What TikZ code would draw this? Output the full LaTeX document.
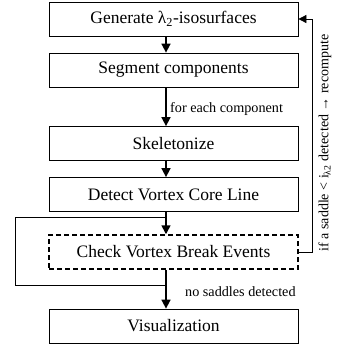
\documentclass[tikz,border=0pt]{standalone}
\usepackage{fontspec}
\setmainfont{Liberation Serif}
\usetikzlibrary{arrows.meta}
\begin{document}
\begin{tikzpicture}[x=1pt,y=-1pt,
  stepbox/.style={draw, line width=0.8pt, minimum width=249pt, minimum height=34pt, inner sep=0pt, font=\fontsize{17.5}{20}\selectfont},
  flow/.style={line width=1.6pt, -{Triangle[length=9pt,width=9pt]}},
  thin/.style={line width=0.8pt},
  lbl/.style={font=\fontsize{14.2}{16}\selectfont, inner sep=0pt}]
\useasboundingbox (0,0) rectangle (338,349);
\node[stepbox] (b1) at (173.5,19) {Generate λ\textsubscript{2}-isosurfaces};
\node[stepbox] (b2) at (173.5,70) {Segment components};
\node[stepbox] (b3) at (173.5,143.5) {Skeletonize};
\node[stepbox] (b4) at (173.5,194.5) {Detect Vortex Core Line};
\node[stepbox, dash pattern=on 5pt off 3pt, line width=1.5pt] (b5) at (173.5,252) {Check Vortex Break Events};
\node[stepbox] (b6) at (173.5,326) {Visualization};
\draw[flow] (b1.south -| 166,0) -- (b2.north -| 166,0);
\draw[flow] (b2.south -| 166,0) -- (b3.north -| 166,0);
\draw[flow] (b3.south -| 166,0) -- (b4.north -| 166,0);
\draw[flow] (b4.south -| 166,0) -- (b5.north -| 166,0);
\draw[flow] (b5.south -| 166,0) -- (b6.north -| 166,0);
\coordinate (l1) at (166,217);
\coordinate (l2) at (166,285);
\draw[thin] (l1) -| (15,285) -- (l2);
\coordinate (r1) at (312,252);
\coordinate (r2) at (312,19);
\draw[thin] (b5.east) -- (r1) -- (r2);
\draw[line width=0.8pt, -{Triangle[length=8pt,width=8pt]}] (r2) -- (b1.east);
\node[lbl, anchor=west] (t1) at (170,109) {for each component};
\node[lbl, anchor=west] (t2) at (185,292) {no saddles detected};
\node[lbl, rotate=90, font=\fontsize{14}{16}\selectfont] (t3) at (325,143) {if a saddle < i\textsubscript{λ2} detected → recompute};
\end{tikzpicture}
\end{document}
